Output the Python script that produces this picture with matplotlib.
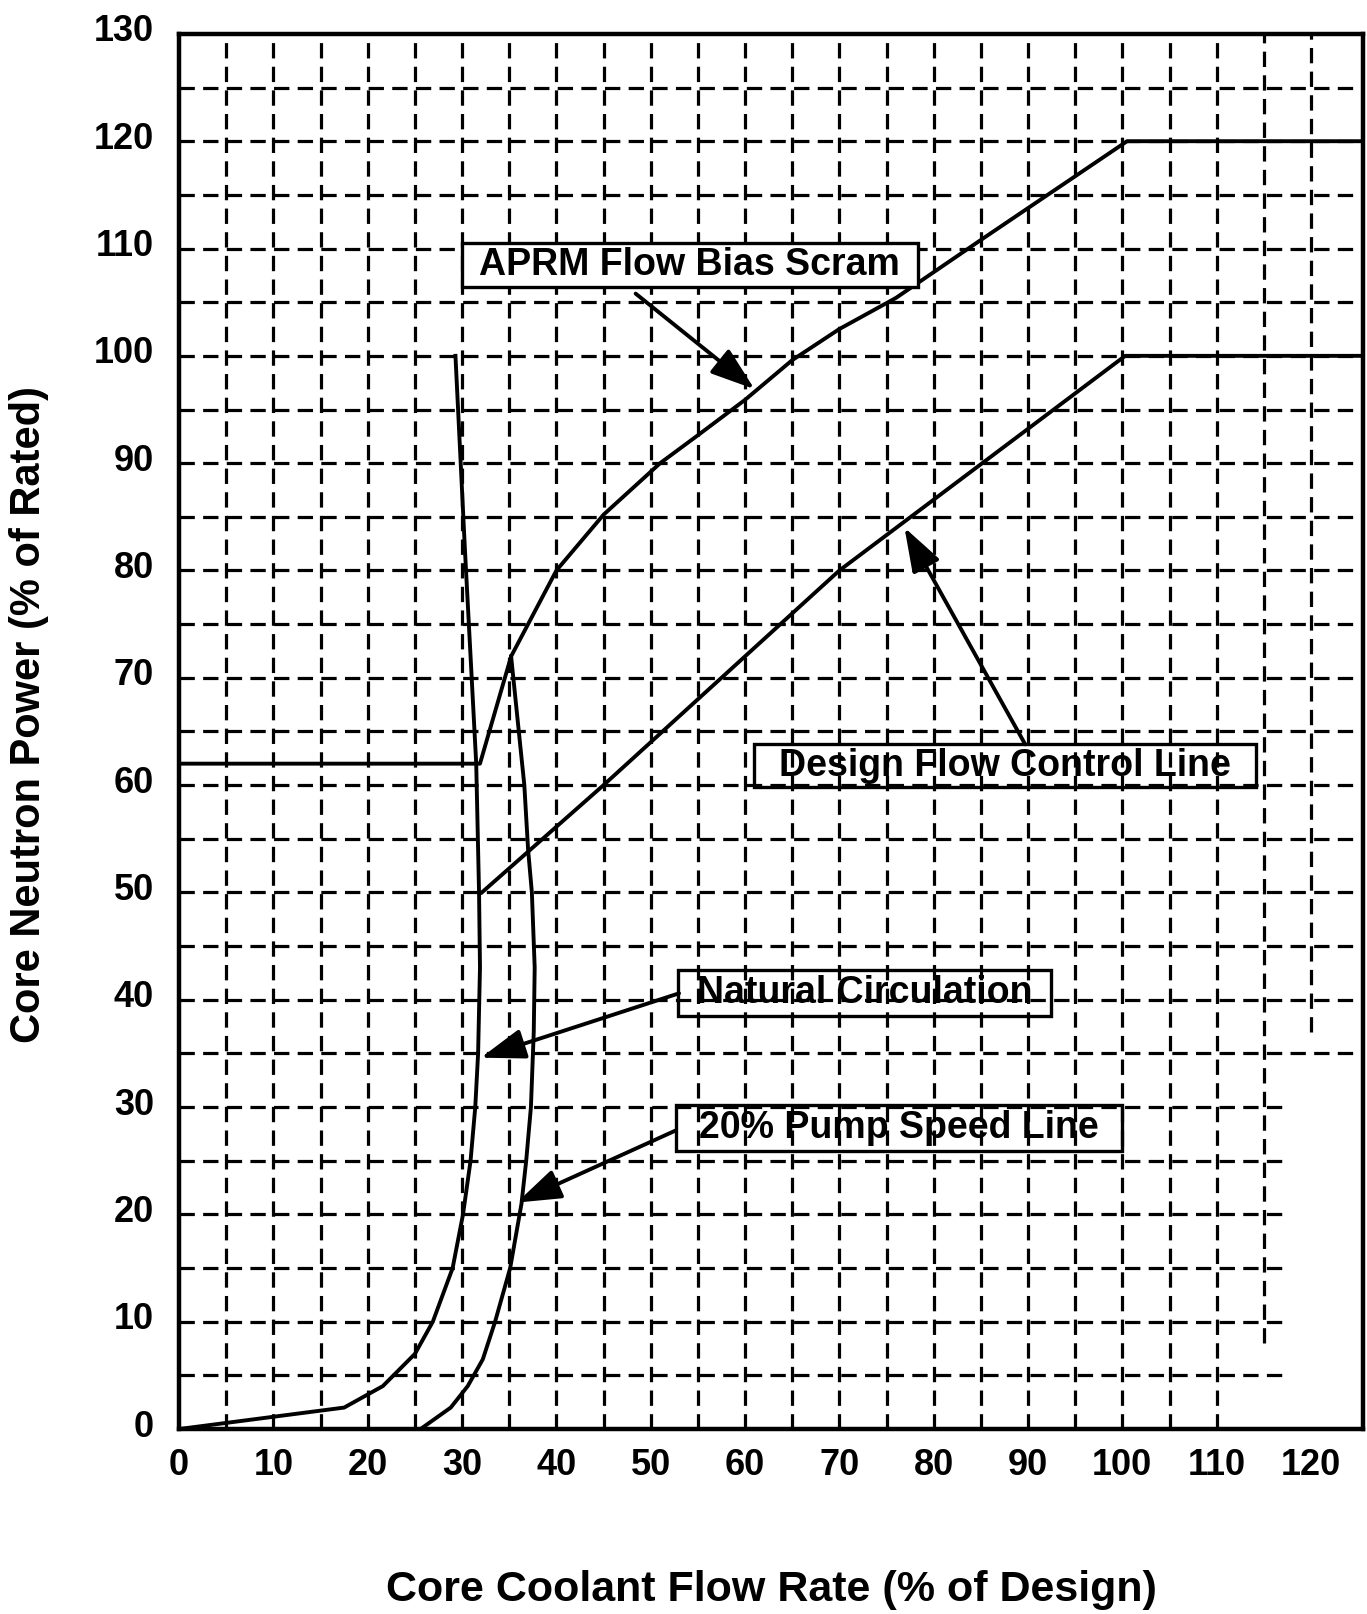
import numpy as np
import matplotlib.pyplot as plt
from matplotlib.patches import Rectangle
from matplotlib.transforms import ScaledTranslation

plt.rcParams['font.family'] = ['Liberation Sans', 'DejaVu Sans']
plt.rcParams['font.weight'] = 'bold'

# APRM flow biased scram line
aprm_flow = [0, 31.9, 35.2, 40, 45, 51, 55, 60, 65, 70, 76, 85, 100.5, 126]
aprm_power = [62, 62, 72, 80, 85.2, 90, 92.6, 95.9, 99.6, 102.5, 105.4, 110.8, 120, 120]

# design flow control line
dfc_flow = [32.1, 45, 70, 100.3, 126]
dfc_power = [50, 60, 80, 100, 100]

# natural circulation line
nc_flow = [29.3, 30.3, 31.5, 31.8, 31.9, 31.7, 31.4, 30.9, 30.1, 29.0, 26.9, 25.0, 21.6, 17.5, 0]
nc_power = [100, 82, 62, 50, 43, 35, 30, 25, 20, 15, 10, 7, 4, 2, 0]

# 20% pump speed line
pump_flow = [25.6, 28.8, 30.6, 32.2, 33.5, 35.1, 36.3, 36.8, 37.3, 37.6, 37.7, 37.4, 37.0, 36.6, 35.2]
pump_power = [0, 2, 4, 6.5, 10, 15, 21, 25, 30, 37, 43, 50, 54, 60, 72]

x_ticks = np.arange(0, 121, 10)
y_ticks = np.arange(0, 131, 10)

# label text, box (x0, y0, x1, y1), box fill, arrow tail, arrow tip
callouts = [
    ("APRM Flow Bias Scram", (30.0, 106.4, 78.3, 110.5), 'white', (48.4, 105.8), (61.0, 96.9)),
    ("Design Flow Control Line", (61.0, 59.8, 114.2, 63.8), 'none', (89.7, 63.8), (76.9, 84.0)),
    ("Natural Circulation", (52.9, 38.5, 92.4, 42.8), 'none', (53.0, 40.6), (32.0, 34.6)),
    ("20% Pump Speed Line", (52.7, 25.9, 100.0, 30.2), 'none', (52.6, 27.8), (35.8, 21.1)),
]

XMAX, YMAX = 125.5, 130

fig = plt.figure(figsize=(13.67, 16.14), dpi=100)
ax = fig.add_axes([0.131, 0.1146, 0.866, 0.8644])
ax.set_xlim(0, XMAX)
ax.set_ylim(0, YMAX)

# dashed grid every 5 units (scan lost some of it at the lower right)
grid_kw = dict(color='black', lw=2.3, linestyle=(0, (4.8, 2.6)), zorder=1)
for gy in np.arange(5, 126, 5):
    xend = 117.5 if gy <= 30 else XMAX
    ax.plot([0, xend], [gy, gy], **grid_kw)
for gx in np.arange(5, 121, 5):
    ystart = 37 if gx == 120 else (8 if gx == 115 else 0)
    ax.plot([gx, gx], [ystart, YMAX], **grid_kw)

line_kw = dict(color='black', lw=2.8, zorder=3, solid_joinstyle='round')
ax.plot(aprm_flow, aprm_power, **line_kw)
ax.plot(dfc_flow, dfc_power, **line_kw)
ax.plot(nc_flow, nc_power, **line_kw)
ax.plot(pump_flow, pump_power, **line_kw)

for text, (x0, y0, x1, y1), fc, tail, tip in callouts:
    ax.add_patch(Rectangle((x0, y0), x1 - x0, y1 - y0, fc=fc, ec='black', lw=2.4, zorder=4))
    ax.text((x0 + x1) / 2, (y0 + y1) / 2, text, ha='center', va='center',
            fontsize=27, fontweight='bold', zorder=5)
    ax.annotate('', xy=tip, xytext=tail, zorder=5,
                arrowprops=dict(arrowstyle='-|>,head_length=1.6,head_width=0.55',
                                mutation_scale=17, color='black', lw=2.8,
                                shrinkA=0, shrinkB=0))

ax.set_xticks(x_ticks)
ax.set_yticks(y_ticks)
ax.set_xticklabels([str(v) for v in x_ticks])
ax.set_yticklabels([str(v) for v in y_ticks])
ax.tick_params(axis='both', length=0, labelsize=26)
ax.tick_params(axis='x', pad=14)
ax.tick_params(axis='y', pad=18)
lift = ScaledTranslation(0, 6 / 100, fig.dpi_scale_trans)
for lab in ax.get_yticklabels():
    lab.set_fontweight('bold')
    lab.set_transform(lab.get_transform() + lift)
for lab in ax.get_xticklabels():
    lab.set_fontweight('bold')

for sp in ax.spines.values():
    sp.set_linewidth(3.2)
    sp.set_zorder(6)

ax.set_xlabel('Core Coolant Flow Rate (% of Design)', fontsize=31, fontweight='bold', va='center')
ax.xaxis.set_label_coords(0.5, -0.1154)
ax.set_ylabel('Core Neutron Power (% of Rated)', fontsize=30, fontweight='bold', va='center', ha='center')
ax.yaxis.set_label_coords(-0.1267, 0.512)

fig.savefig('out.png', dpi=100)
